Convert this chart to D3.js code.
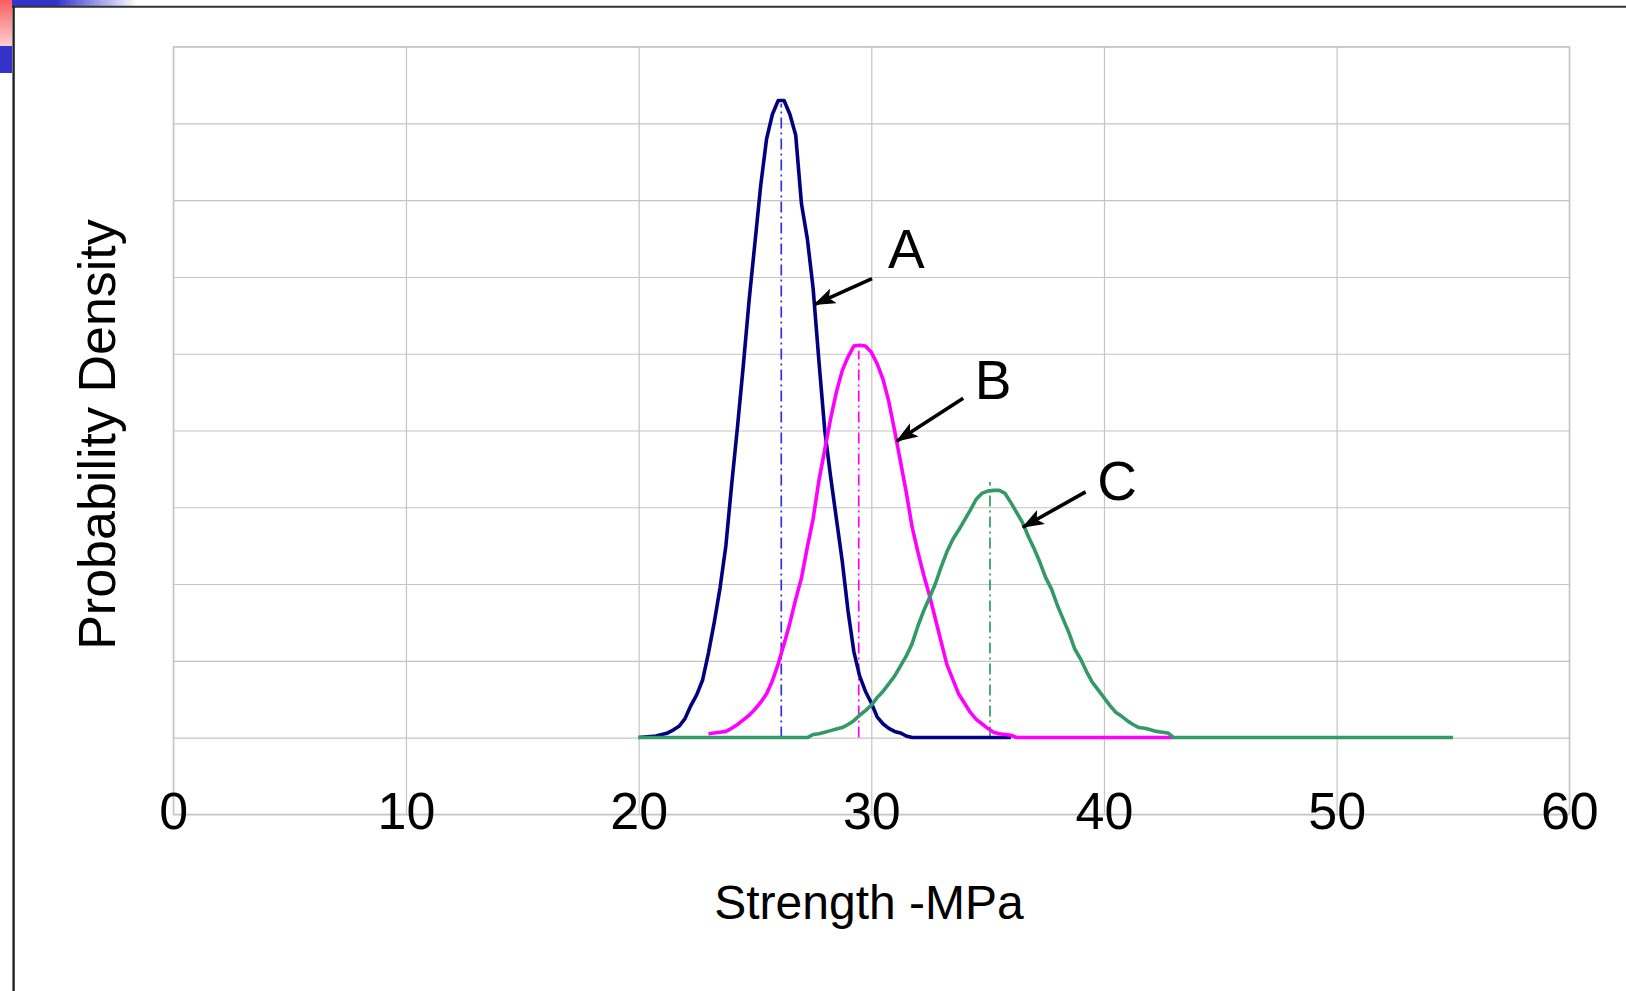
<!DOCTYPE html>
<html>
<head>
<meta charset="utf-8">
<script src="https://cdn.jsdelivr.net/npm/d3@7/dist/d3.min.js"></script>
<style>
  html, body { margin: 0; padding: 0; background: #fff; }
  svg { display: block; }
  text { font-family: "Liberation Sans", Arial, sans-serif; fill: #000; }
</style>
</head>
<body>
<svg id="chart" width="1626" height="991"></svg>
<script>
// ---------- data ----------
const xTicks = [0, 10, 20, 30, 40, 50, 60];
const yGrid = [-1, 0, 1, 2, 3, 4, 5, 6, 7, 8, 9];
const xTitle = "Strength -MPa";
const yTitle = "Probability Density";

const aStrength = [20, 20.75, 21, 21.25, 21.5, 21.75, 22, 22.25, 22.5, 22.75, 23, 23.25, 23.5, 23.75, 24, 24.25, 24.5, 24.75, 25, 25.25, 25.5, 25.75, 26, 26.25, 26.5, 26.75, 27, 27.25, 27.5, 27.75, 28, 28.25, 28.5, 28.75, 29, 29.25, 29.5, 29.75, 30, 30.25, 30.5, 30.75, 31, 31.25, 31.5, 31.75, 36];
const aDensity  = [0, 0.02, 0.04, 0.06, 0.10, 0.15, 0.25, 0.42, 0.56, 0.75, 1.10, 1.50, 1.95, 2.50, 3.30, 4.05, 4.85, 5.70, 6.45, 7.20, 7.80, 8.12, 8.30, 8.30, 8.12, 7.85, 6.95, 6.50, 5.85, 4.90, 4.00, 3.40, 2.85, 2.30, 1.65, 1.12, 0.80, 0.60, 0.45, 0.27, 0.18, 0.12, 0.08, 0.06, 0.02, 0, 0];

const bStrength = [23, 23.25, 23.5, 23.75, 24, 24.25, 24.5, 24.75, 25, 25.25, 25.5, 25.75, 26, 26.25, 26.5, 26.75, 27, 27.25, 27.5, 27.75, 28, 28.25, 28.5, 28.75, 29, 29.25, 29.5, 29.75, 30, 30.25, 30.5, 30.75, 31, 31.25, 31.5, 31.75, 32, 32.25, 32.5, 32.75, 33, 33.25, 33.5, 33.75, 34, 34.25, 34.5, 34.75, 35, 35.25, 35.5, 35.75, 36, 36.25, 43];
const bDensity  = [0.05, 0.06, 0.07, 0.08, 0.12, 0.17, 0.23, 0.29, 0.37, 0.46, 0.57, 0.74, 0.96, 1.22, 1.49, 1.80, 2.08, 2.48, 2.85, 3.35, 3.75, 4.15, 4.50, 4.78, 4.96, 5.10, 5.11, 5.10, 5.02, 4.87, 4.67, 4.38, 4.00, 3.60, 3.20, 2.75, 2.42, 2.12, 1.85, 1.55, 1.25, 0.95, 0.76, 0.57, 0.45, 0.33, 0.24, 0.18, 0.12, 0.07, 0.05, 0.04, 0.03, 0, 0];

const cStrength = [20, 27.25, 27.5, 27.75, 28, 28.25, 28.5, 28.75, 29, 29.25, 29.5, 29.75, 30, 30.25, 30.5, 30.75, 31, 31.25, 31.5, 31.75, 32, 32.25, 32.5, 32.75, 33, 33.25, 33.5, 33.75, 34, 34.25, 34.5, 34.75, 35, 35.25, 35.5, 35.75, 36, 36.25, 36.5, 36.75, 37, 37.25, 37.5, 37.75, 38, 38.25, 38.5, 38.75, 39, 39.25, 39.5, 39.75, 40, 40.25, 40.5, 40.75, 41, 41.25, 41.5, 41.75, 42, 42.25, 42.5, 42.75, 43, 55];
const cDensity  = [0, 0, 0.04, 0.05, 0.07, 0.09, 0.11, 0.13, 0.17, 0.22, 0.29, 0.35, 0.42, 0.52, 0.60, 0.70, 0.80, 0.93, 1.06, 1.22, 1.45, 1.65, 1.82, 2.00, 2.22, 2.42, 2.58, 2.70, 2.83, 2.96, 3.10, 3.18, 3.21, 3.22, 3.22, 3.18, 3.06, 2.93, 2.80, 2.62, 2.46, 2.28, 2.08, 1.93, 1.72, 1.54, 1.36, 1.15, 1.02, 0.86, 0.72, 0.62, 0.52, 0.42, 0.33, 0.28, 0.22, 0.17, 0.13, 0.12, 0.10, 0.08, 0.07, 0.06, 0, 0];

const seriesNames = ["A", "B", "C"];
const seriesColors = ["#000080", "#ff00ff", "#339966"];
const meanColors = ["#3333dd", "#ff00ff", "#339966"];
const meanStrength = [26.13, 29.46, 35.1];
const meanTop = [8.26, 5.04, 3.33];

const labelX = [31.51, 35.23, 40.56];
const labelY = [6.12, 4.41, 3.10];
const arrowFromX = [30.03, 33.95, 39.21];
const arrowFromY = [5.98, 4.42, 3.20];
const arrowToX = [27.55, 31.09, 36.51];
const arrowToY = [5.64, 3.86, 2.74];

// ---------- layout ----------
const W = 1626, H = 991;
const plot = { left: 173.3, right: 1569.3, top: 46.7, bottom: 814.3 };

const svg = d3.select("#chart");
svg.append("rect").attr("width", W).attr("height", H).attr("fill", "#fff");

// decorations (slide frame)
const defs = svg.append("defs");
const rg = defs.append("linearGradient").attr("id", "redGrad").attr("x1", 0).attr("y1", 0).attr("x2", 0).attr("y2", 1);
rg.append("stop").attr("offset", "0%").attr("stop-color", "#f85e5e");
rg.append("stop").attr("offset", "100%").attr("stop-color", "#fcd0d0");
const bg = defs.append("linearGradient").attr("id", "blueGrad").attr("x1", 0).attr("y1", 0).attr("x2", 1).attr("y2", 0);
bg.append("stop").attr("offset", "0%").attr("stop-color", "#3333cc");
bg.append("stop").attr("offset", "35%").attr("stop-color", "#3333cc");
bg.append("stop").attr("offset", "100%").attr("stop-color", "#ffffff");

svg.append("rect").attr("x", 0).attr("y", 0).attr("width", 12).attr("height", 46).attr("fill", "url(#redGrad)");
svg.append("rect").attr("x", 0).attr("y", 46).attr("width", 12).attr("height", 27).attr("fill", "#3333cc");
svg.append("rect").attr("x", 12).attr("y", 0).attr("width", 125).attr("height", 6).attr("fill", "url(#blueGrad)");
svg.append("line").attr("x1", 12).attr("x2", W).attr("y1", 6.8).attr("y2", 6.8).attr("stroke", "#333").attr("stroke-width", 2);
svg.append("line").attr("x1", 13.6).attr("x2", 13.6).attr("y1", 6).attr("y2", H).attr("stroke", "#222").attr("stroke-width", 2.4);

// scales
const x = d3.scaleLinear().domain([0, 60]).range([plot.left, plot.right]);
const y = d3.scaleLinear().domain([-1, 9]).range([plot.bottom, plot.top]);

// gridlines
const gridColor = "#c4c4c4";
const gx = svg.append("g").attr("transform", `translate(0,${plot.bottom})`)
  .call(d3.axisBottom(x).tickValues(xTicks).tickSize(-(plot.bottom - plot.top)).tickFormat(""));
gx.select(".domain").remove();
gx.selectAll(".tick line").attr("stroke", gridColor).attr("stroke-width", 1.2);

const gy = svg.append("g").attr("transform", `translate(${plot.left},0)`)
  .call(d3.axisLeft(y).tickValues(yGrid).tickSize(-(plot.right - plot.left)).tickFormat(""));
gy.select(".domain").remove();
gy.selectAll(".tick line").attr("stroke", gridColor).attr("stroke-width", 1.2);

// plot border
svg.append("rect").attr("x", plot.left).attr("y", plot.top)
  .attr("width", plot.right - plot.left).attr("height", plot.bottom - plot.top)
  .attr("fill", "none").attr("stroke", gridColor).attr("stroke-width", 1.2);

// x tick labels
const gxl = svg.append("g").attr("transform", `translate(0,${plot.bottom})`)
  .call(d3.axisBottom(x).tickValues(xTicks).tickSize(0).tickFormat(d3.format("d")));
gxl.select(".domain").remove();
gxl.selectAll(".tick text")
  .attr("y", 15).attr("dy", 0)
  .style("font-family", "'Liberation Sans', Arial, sans-serif")
  .style("font-size", "52px").attr("fill", "#000");

// axis titles
svg.append("text").attr("x", 869).attr("y", 919).attr("text-anchor", "middle")
  .style("font-size", "48px").text(xTitle);
svg.append("text").attr("transform", "translate(115,434.5) rotate(-90)").attr("text-anchor", "middle")
  .style("font-size", "52px").text(yTitle);

// mean lines
meanStrength.forEach((m, i) => {
  svg.append("line").attr("x1", x(m)).attr("x2", x(m)).attr("y1", y(0)).attr("y2", y(meanTop[i]))
    .attr("stroke", meanColors[i]).attr("stroke-width", 1.7)
    .attr("stroke-dasharray", "11,4,2,4");
});

// curves
const line = d3.line().x(d => x(d[0])).y(d => y(d[1])).curve(d3.curveLinear);
const series = [
  d3.zip(aStrength, aDensity),
  d3.zip(bStrength, bDensity),
  d3.zip(cStrength, cDensity)
];
series.forEach((s, i) => {
  svg.append("path").datum(s).attr("d", line)
    .attr("fill", "none").attr("stroke", seriesColors[i]).attr("stroke-width", 3.6)
    .attr("stroke-linejoin", "round");
});

// arrows
defs.append("marker").attr("id", "arrowHead").attr("viewBox", "0 0 22 16")
  .attr("refX", 21).attr("refY", 8).attr("markerWidth", 22).attr("markerHeight", 16)
  .attr("markerUnits", "userSpaceOnUse").attr("orient", "auto")
  .append("path").attr("d", "M0,0 L22,8 L0,16 L5,8 Z").attr("fill", "#000");

seriesNames.forEach((n, i) => {
  svg.append("line")
    .attr("x1", x(arrowFromX[i])).attr("y1", y(arrowFromY[i]))
    .attr("x2", x(arrowToX[i])).attr("y2", y(arrowToY[i]))
    .attr("stroke", "#000").attr("stroke-width", 3.6).attr("marker-end", "url(#arrowHead)");
  svg.append("text").attr("x", x(labelX[i])).attr("y", y(labelY[i]))
    .attr("text-anchor", "middle").style("font-size", "55px").text(n);
});
</script>
</body>
</html>
